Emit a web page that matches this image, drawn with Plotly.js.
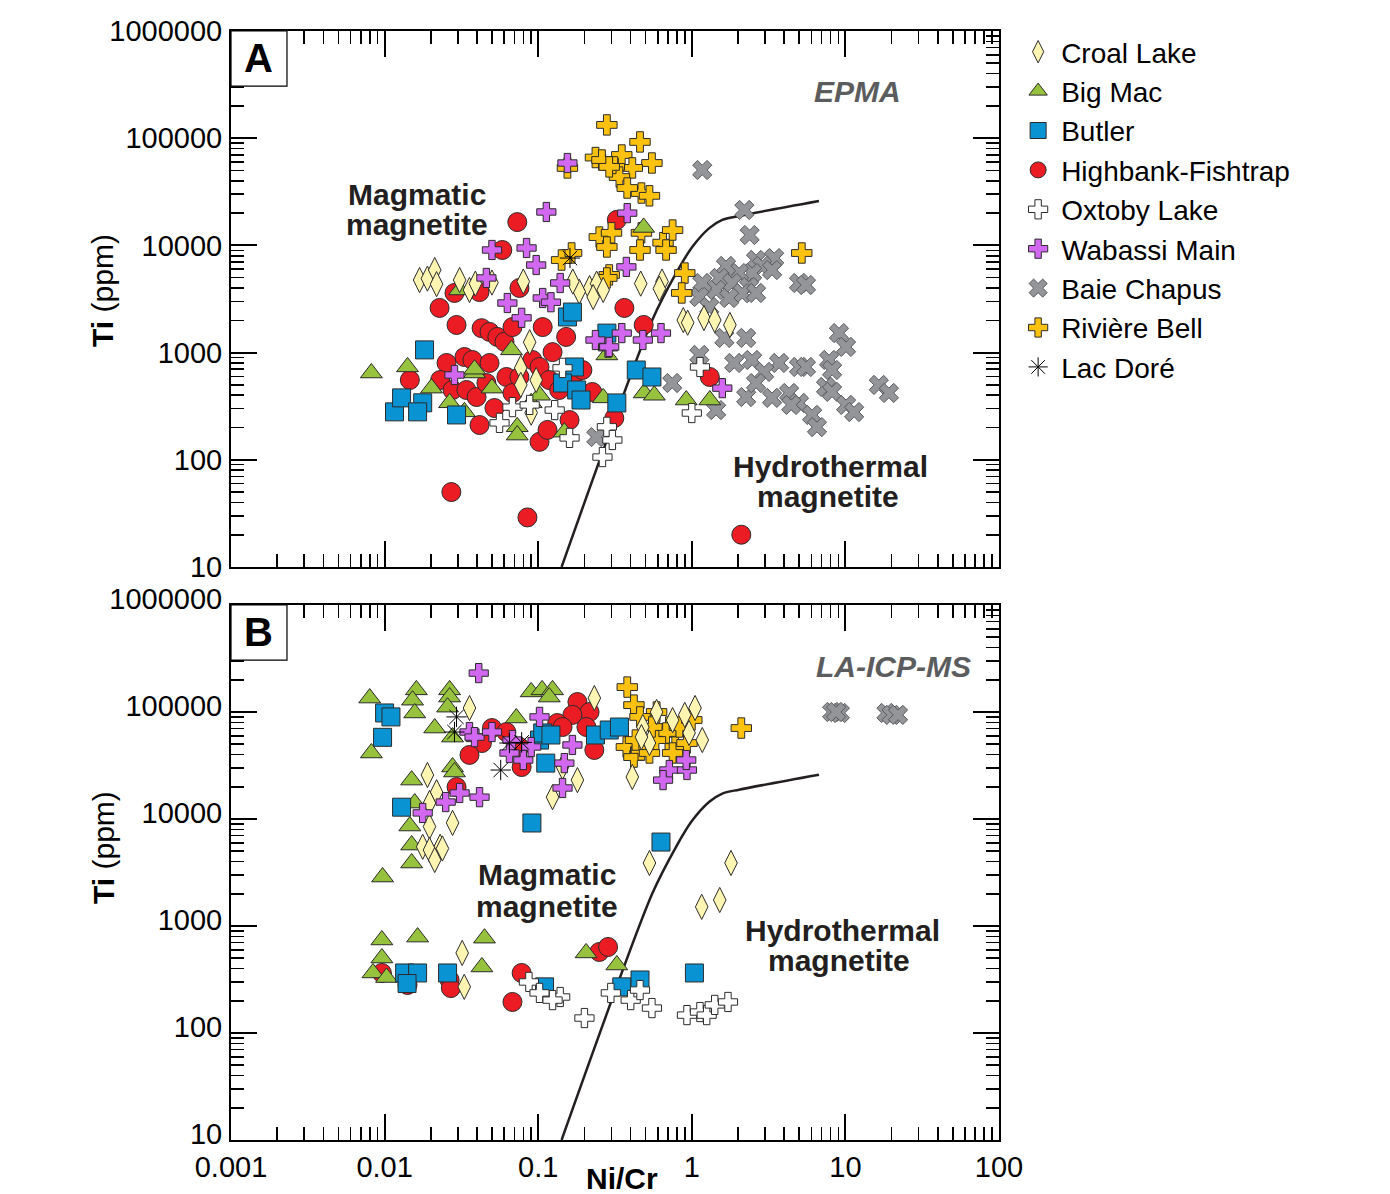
<!DOCTYPE html>
<html>
<head>
<meta charset="utf-8">
<script src="https://cdn.plot.ly/plotly-3.0.1.min.js"></script>
<style>html,body{margin:0;padding:0;background:#fff;}</style>
</head>
<body>
<div id="chart" style="width:1390px;height:1194px;"></div>
<script>
// ---------- Panel A (EPMA) ----------
const croalA_x = [0.0169,0.019,0.0212,0.0218,0.0308,0.0357,0.039,0.050,0.080,0.088,0.077,0.077,0.097,0.090,0.216,0.24,0.265,0.228,0.185,0.168,0.465,0.64,0.615,0.88,1.2,1.41,1.77,0.94];
const croalA_y = [4750,4900,5890,4350,4750,3840,4400,4500,4600,1250,720,500,555,275,4000,4400,3840,3300,3700,4600,4400,4600,3950,2010,2100,2010,1810,1900];

const bigmacA_x = [0.0082,0.0141,0.0202,0.0308,0.0385,0.0265,0.0331,0.067,0.050,0.090,0.073,0.073,0.148,0.265,0.28,0.486,0.92,1.31,0.49,0.57,0.102,0.0385];
const bigmacA_y = [645,735,466,3840,645,340,280,1060,466,340,203,170,181,378,950,14700,361,361,420,400,400,700];

const butlerA_x = [0.0182,0.0116,0.0129,0.0177,0.0164,0.0294,0.155,0.167,0.28,0.172,0.144,0.178,0.19,0.325,0.435,0.55];
const butlerA_y = [1060,280,378,340,280,262,2150,2390,1520,734,520,448,361,339,688,592];

const highbankA_x = [0.0731,0.0584,0.0285,0.0755,0.0415,0.0228,0.0294,0.0428,0.0482,0.0542,0.0603,0.068,0.107,0.152,0.124,0.0331,0.0373,0.0482,0.0253,0.023,0.0277,0.0341,0.0397,0.046,0.0621,0.068,0.0755,0.0916,0.102,0.118,0.137,0.167,0.194,0.225,0.0415,0.0519,0.102,0.115,0.160,0.0146,0.325,0.364,0.486,1.31,2.1,0.0272,0.0851,0.313];
const highbankA_y = [16500,9060,3600,4010,3670,2610,1810,1690,1560,1400,1260,1730,1730,1400,1010,910,853,800,800,555,448,448,385,520,592,420,592,853,734,555,448,555,688,429,211,304,147,190,235,555,17300,2610,1810,592,20,50,29,245];

const oxtobyA_x = [0.144,0.068,0.056,0.128,0.160,0.262,0.28,0.304,1.13,1.0,0.088];
const oxtobyA_y = [720,310,221,291,160,106,203,153,734,273,325];

const wabassiA_x = [0.155,0.113,0.050,0.084,0.097,0.046,0.139,0.063,0.107,0.121,0.078,0.0285,0.236,0.285,0.38,0.375,0.35,0.29,0.63,0.48,1.58];
const wabassiA_y = [58700,20500,9060,9460,6560,4970,4460,2900,3230,2950,2110,618,1310,1110,20000,6300,1520,1130,1520,1310,466];

const baieA_x = [1.17,2.2,2.38,2.62,3.44,2.87,3.33,2.47,2.03,1.67,1.51,1.83,2.36,2.13,2.62,1.44,1.17,1.12,1.30,1.75,4.99,5.54,1.63,2.26,9.08,10.1,1.12,1.89,2.47,3.70,2.96,4.99,5.54,7.83,8.19,0.746,2.26,2.62,3.33,4.3,4.99,4.44,6.07,6.53,7.48,8.19,10.1,11.4,16.5,19.2,1.44,0.239];
const baieA_y = [50500,21400,12500,7310,7620,6430,5890,5520,5520,6430,4970,4460,4090,3580,3600,3840,4460,3300,2660,3230,4460,4270,1370,1370,1520,1130,950,800,853,800,660,734,734,853,688,520,385,520,378,420,339,325,262,202,478,430,325,279,499,420,291,163];

const riviereA_x = [0.28,0.236,0.155,0.46,0.55,0.35,0.41,0.313,0.338,0.47,0.38,0.53,0.26,0.29,0.25,0.30,0.28,0.47,0.46,0.65,0.75,0.68,0.29,0.90,0.86,5.2,0.165,0.142,0.28];
const riviereA_y = [133000,66000,52800,92300,58700,69700,52800,54000,43400,30800,34300,29000,62600,54000,11960,13100,9660,13100,9060,10600,13900,9060,5300,5520,3600,8490,8500,7300,4970];

const lacdoreA_x = [0.161];
const lacdoreA_y = [7620];

// ---------- Panel B (LA-ICP-MS) ----------
const croalB_x = [0.0357,0.232,0.019,0.0218,0.0196,0.0196,0.0277,0.18,0.124,0.144,0.0177,0.023,0.0196,0.0238,0.0212,0.032,0.033,0.41,0.48,0.59,0.9,1.05,1.17,0.53,0.75,0.96,0.47,0.53,1.8,1.16,1.52];
const croalB_y = [109000,135000,25800,17800,14100,8500,9200,23100,16000,30600,5500,5500,5130,5300,4140,560,270,24700,72400,100000,94000,109000,54700,51300,84000,63700,58300,3880,3880,1510,1750];

const bigmacB_x = [0.0080,0.0082,0.0161,0.0152,0.0157,0.0265,0.0265,0.0257,0.0212,0.0277,0.090,0.106,0.124,0.118,0.072,0.0277,0.0285,0.015,0.0157,0.0146,0.0150,0.0150,0.0097,0.0096,0.0096,0.0084,0.0103,0.0164,0.0447,0.043,0.205,0.325];
const bigmacB_y = [135000,41400,161000,129000,97900,161000,138000,111000,70800,58300,154000,161000,161000,138000,87900,30600,27500,23100,14100,8600,5710,3880,2870,740,502,364,330,788,770,414,560,432];

const butlerB_x = [0.010,0.011,0.0097,0.0129,0.091,0.102,0.107,0.121,0.112,0.236,0.29,0.338,0.63,0.0135,0.0164,0.014,0.0257,0.11,0.35,0.46,1.04];
const butlerB_y = [98000,90000,58000,12900,9180,54700,63700,61000,33300,61000,67900,72400,6090,364,364,290,364,270,270,313,364];

const highbankB_x = [0.18,0.216,0.167,0.133,0.144,0.206,0.232,0.05,0.062,0.043,0.0357,0.0755,0.078,0.0294,0.0096,0.0141,0.0265,0.027,0.068,0.078,0.25,0.285];
const highbankB_y = [124000,100000,94000,78900,72400,72400,44200,70800,65000,51300,39700,47100,30600,19900,364,281,313,263,195,364,572,637];

const oxtobyB_x = [0.087,0.102,0.139,0.124,0.2,0.297,0.4,0.46,0.55,0.93,1.13,1.25,1.41,1.72];
const oxtobyB_y = [300,237,217,203,138,237,203,252,171,147,157,147,183,195];

const wabassiB_x = [0.041,0.0357,0.0385,0.05,0.102,0.065,0.08,0.09,0.167,0.148,0.144,0.0308,0.025,0.0415,0.0177,0.068,0.714,0.65,0.93,0.92];
const wabassiB_y = [231000,65000,58300,65000,90000,41400,35600,47100,49200,33300,19500,17500,14400,16000,11400,54700,28700,23100,28700,35600];

const baieB_x = [8.2,9.2,8.7,18.5,20,22];
const baieB_y = [100000,98000,100000,98000,94000,94000];

const riviereB_x = [0.38,0.42,0.59,0.46,0.71,0.375,0.42,0.47,0.68,0.78,0.93,0.58,0.83,1.0,0.55,2.1,0.53,0.75,0.43];
const riviereB_y = [171000,116000,100000,90000,72400,47100,37900,44200,63700,47100,51300,54700,72400,84200,72400,70800,41400,41400,54700];

const lacdoreB_x = [0.0294,0.0285,0.065,0.078,0.057];
const lacdoreB_y = [90000,65000,51300,52000,28700];

// ---------- Boundary line (same in both panels) ----------
const lineX = [0.142,0.553,0.792,1.006,1.30,1.58,2.03,6.73];
const lineY = [10,2010,5530,9660,14500,17300,18800,25900];

// ---------- Tick labels ----------
const xTickVals = [0.001,0.01,0.1,1,10,100];
const xTickText = ['0.001','0.01','0.1','1','10','100'];
const yTickVals = [10,100,1000,10000,100000,1000000];
const yTickText = ['10','100','1000','10000','100000','1000000'];

// ---------- Styles ----------
const OUT = '#2b2b2b';
const series = [
  {key:'baie',     name:'Baie Chapus',       rank:7, symbol:'x',            size:17, color:'#939598', line:'#58595b', lw:1, A:[baieA_x,baieA_y],         B:[baieB_x,baieB_y]},
  {key:'highbank', name:'Highbank-Fishtrap', rank:4, symbol:'circle',       size:19, color:'#ec1c24', line:OUT, lw:1, A:[highbankA_x,highbankA_y], B:[highbankB_x,highbankB_y]},
  {key:'riviere',  name:'Rivière Bell',      rank:8, symbol:'cross',        size:17, color:'#fdc20f', line:OUT, lw:1, A:[riviereA_x,riviereA_y],   B:[riviereB_x,riviereB_y]},
  {key:'bigmac',   name:'Big Mac',           rank:2, symbol:'triangle-up',  size:19, color:'#97c23d', line:OUT, lw:1, A:[bigmacA_x,bigmacA_y],     B:[bigmacB_x,bigmacB_y]},
  {key:'croal',    name:'Croal Lake',        rank:1, symbol:'diamond-tall', size:18, color:'#fff5b3', line:OUT, lw:1, A:[croalA_x,croalA_y],       B:[croalB_x,croalB_y]},
  {key:'butler',   name:'Butler',            rank:3, symbol:'square',       size:18, color:'#0a93d2', line:OUT, lw:1, A:[butlerA_x,butlerA_y],     B:[butlerB_x,butlerB_y]},
  {key:'oxtoby',   name:'Oxtoby Lake',       rank:5, symbol:'cross',        size:16, color:'#ffffff', line:OUT, lw:1, A:[oxtobyA_x,oxtobyA_y],     B:[oxtobyB_x,oxtobyB_y]},
  {key:'wabassi',  name:'Wabassi Main',      rank:6, symbol:'cross',        size:16, color:'#d168ef', line:OUT, lw:1, A:[wabassiA_x,wabassiA_y],   B:[wabassiB_x,wabassiB_y]},
  {key:'lacdore',  name:'Lac Doré',          rank:9, symbol:'asterisk-open',size:17, color:'#000000', line:'#000000', lw:1, A:[lacdoreA_x,lacdoreA_y], B:[lacdoreB_x,lacdoreB_y]}
];

const traces = [];
traces.push({x:lineX, y:lineY, xaxis:'x', yaxis:'y', mode:'lines', type:'scatter', showlegend:false, hoverinfo:'skip',
  line:{color:'#231f20', width:2.5, shape:'spline', smoothing:0.8}});
traces.push({x:lineX, y:lineY, xaxis:'x2', yaxis:'y2', mode:'lines', type:'scatter', showlegend:false, hoverinfo:'skip',
  line:{color:'#231f20', width:2.5, shape:'spline', smoothing:0.8}});

series.forEach(s => {
  const marker = {symbol:s.symbol, size:s.size, color:s.color, line:{color:s.line, width:s.lw}};
  traces.push({x:s.A[0], y:s.A[1], xaxis:'x', yaxis:'y', type:'scatter', mode:'markers', name:s.name,
    legendgroup:s.key, legendrank:s.rank, showlegend:true, marker:marker, cliponaxis:true});
  traces.push({x:s.B[0], y:s.B[1], xaxis:'x2', yaxis:'y2', type:'scatter', mode:'markers', name:s.name,
    legendgroup:s.key, legendrank:s.rank, showlegend:false, marker:marker, cliponaxis:true});
});

// minor tick positions (2..9 within each decade)
function minorVals(lo, hi){ const v=[]; for(let e=lo;e<hi;e++){ for(let m=2;m<=9;m++){ v.push(m*Math.pow(10,e)); } } return v; }

const FONT = 'Liberation Sans, Arial, Helvetica, sans-serif';
function axisBase(){
  return {type:'log', showline:true, linecolor:'#000', linewidth:2, mirror:'allticks',
    ticks:'inside', ticklen:26, tickwidth:2, tickcolor:'#000', showgrid:false, zeroline:false,
    tickfont:{family:FONT, size:29, color:'#000'}, tickmode:'array'};
}
function minorCfg(lo, hi){
  return {ticks:'inside', ticklen:13, tickwidth:1.6, tickcolor:'#000', tickmode:'array', tickvals:minorVals(lo,hi), showgrid:false};
}
const xA = Object.assign(axisBase(), {domain:[0,1], anchor:'y', range:[-3,2], tickvals:xTickVals, ticktext:xTickText, showticklabels:false, minor:minorCfg(-3,2)});
const xB = Object.assign(axisBase(), {domain:[0,1], anchor:'y2', range:[-3,2], tickvals:xTickVals, ticktext:xTickText, showticklabels:true, minor:minorCfg(-3,2)});
const yA = Object.assign(axisBase(), {domain:[0.5167,1], anchor:'x', range:[1,6], tickvals:yTickVals, ticktext:yTickText, ticklabelstandoff:1, minor:minorCfg(1,6)});
const yB = Object.assign(axisBase(), {domain:[0,0.4824], anchor:'x2', range:[1,6], tickvals:yTickVals, ticktext:yTickText, ticklabelstandoff:1, ticklabelshift:-6, minor:minorCfg(1,6)});

function ann(text, x, y, opts){
  return Object.assign({text:text, x:x, y:y, xref:'paper', yref:'paper', showarrow:false, xanchor:'center', yanchor:'middle',
    font:{family:FONT, size:30, color:'#231f20', weight:'bold'}}, opts||{});
}
const gray = {family:FONT, size:30, color:'#5b5c5e', weight:'bold', style:'italic'};
const annotations = [
  ann('A', 0.0352, 0.9757, {font:{family:FONT, size:40, color:'#000', weight:'bold'}}),
  ann('B', 0.0352, 0.4581, {font:{family:FONT, size:40, color:'#000', weight:'bold'}}),
  ann('Magmatic', 0.2422, 0.8530),
  ann('magnetite', 0.2422, 0.8251),
  ann('Hydrothermal', 0.780, 0.607),
  ann('magnetite', 0.777, 0.5807),
  ann('EPMA', 0.8164, 0.945, {font:gray}),
  ann('Magmatic', 0.4115, 0.2390),
  ann('magnetite', 0.4115, 0.2110),
  ann('Hydrothermal', 0.7956, 0.1890),
  ann('magnetite', 0.7917, 0.1623),
  ann('LA-ICP-MS', 0.862, 0.4274, {font:gray}),
  ann('<b>Ti</b> (ppm)', -0.1667, 0.7665, {textangle:-90, font:{family:FONT, size:30, color:'#000'}}),
  ann('<b>Ti</b> (ppm)', -0.1667, 0.2642, {textangle:-90, font:{family:FONT, size:30, color:'#000'}}),
  ann('Ni/Cr', 0.509, -0.0350, {font:{family:FONT, size:30, color:'#000', weight:'bold'}})
];

const shapes = [
  {type:'rect', xref:'x domain', yref:'y domain', x0:0, x1:0.0729, y0:0.897, y1:1, line:{color:'#000', width:1.2}, fillcolor:'#fff', layer:'above'},
  {type:'rect', xref:'x2 domain', yref:'y2 domain', x0:0, x1:0.0729, y0:0.897, y1:1, line:{color:'#000', width:1.2}, fillcolor:'#fff', layer:'above'}
];

const layout = {
  width:1390, height:1194, autosize:false,
  margin:{l:231, r:391, t:31, b:54, pad:0},
  paper_bgcolor:'#fff', plot_bgcolor:'#fff',
  font:{family:FONT, color:'#000'},
  xaxis:xA, yaxis:yA, xaxis2:xB, yaxis2:yB,
  showlegend:true,
  legend:{x:1.021, y:1.0036, xanchor:'left', yanchor:'top', font:{family:FONT, size:28, color:'#000'},
    bgcolor:'rgba(0,0,0,0)', borderwidth:0, traceorder:'normal', itemsizing:'trace', itemwidth:36},
  annotations:annotations, shapes:shapes
};

Plotly.newPlot('chart', traces, layout, {displayModeBar:false, staticPlot:true});
</script>
</body>
</html>
